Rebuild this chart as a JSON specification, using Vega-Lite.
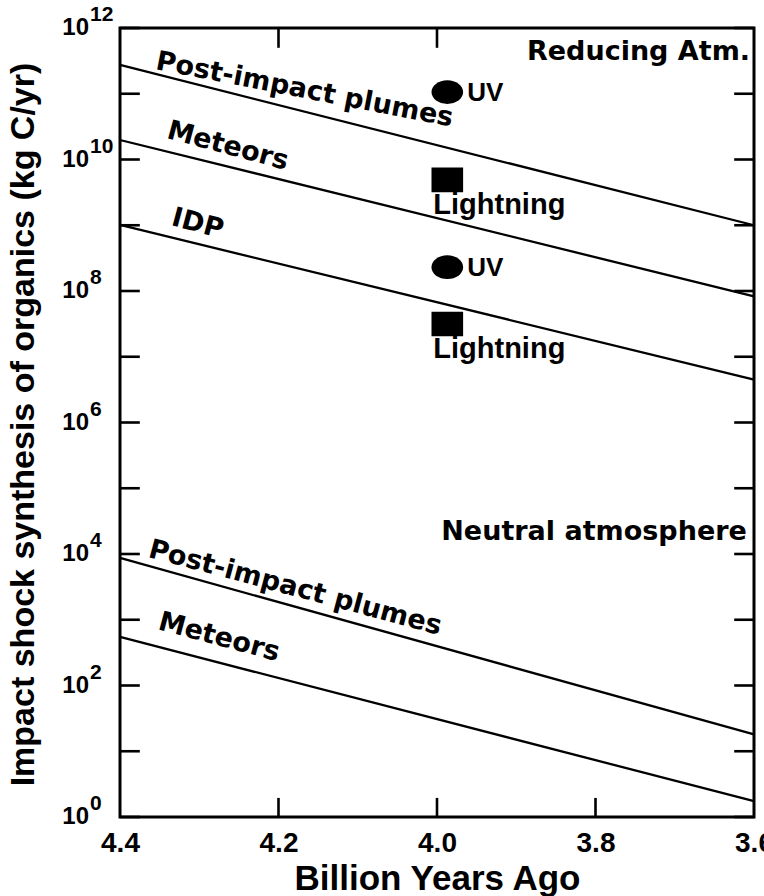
{
  "$schema": "https://vega.github.io/schema/vega-lite/v6.json",
  "width": 634,
  "height": 789,
  "autosize": {"type": "none"},
  "padding": {"left": 120, "top": 28, "right": 10, "bottom": 79},
  "background": "white",
  "config": {
    "font": "Liberation Sans",
    "view": {"stroke": "black", "strokeWidth": 3},
    "axis": {
      "domain": false,
      "grid": false,
      "ticks": false,
      "tickSize": 0,
      "labelColor": "black",
      "labelFont": "Liberation Sans",
      "labelFontWeight": "bold",
      "titleFont": "Liberation Sans",
      "titleFontWeight": "bold",
      "titleColor": "black"
    }
  },
  "datasets": {
    "lines": [
      {"series": "R plumes", "age": 4.4, "rate": 2.74e11},
      {"series": "R plumes", "age": 3.6, "rate": 1.0e9},
      {"series": "R meteors", "age": 4.4, "rate": 1.98e10},
      {"series": "R meteors", "age": 3.6, "rate": 8.3e7},
      {"series": "IDP", "age": 4.4, "rate": 1.01e9},
      {"series": "IDP", "age": 3.6, "rate": 4.5e6},
      {"series": "N plumes", "age": 4.4, "rate": 8700},
      {"series": "N plumes", "age": 3.6, "rate": 18},
      {"series": "N meteors", "age": 4.4, "rate": 547},
      {"series": "N meteors", "age": 3.6, "rate": 1.74}
    ],
    "points": [
      {"source": "UV", "age": 3.987, "rate": 1.06e11},
      {"source": "Lightning", "age": 3.987, "rate": 4.9e9},
      {"source": "UV", "age": 3.987, "rate": 2.3e8},
      {"source": "Lightning", "age": 3.987, "rate": 3.15e7}
    ],
    "leftTicks": [
      {"age": 4.4, "end": 4.375, "rate": 1}, {"age": 4.4, "end": 4.375, "rate": 10}, {"age": 4.4, "end": 4.375, "rate": 100},
      {"age": 4.4, "end": 4.375, "rate": 1000}, {"age": 4.4, "end": 4.375, "rate": 10000}, {"age": 4.4, "end": 4.375, "rate": 100000},
      {"age": 4.4, "end": 4.375, "rate": 1000000}, {"age": 4.4, "end": 4.375, "rate": 10000000}, {"age": 4.4, "end": 4.375, "rate": 100000000},
      {"age": 4.4, "end": 4.375, "rate": 1000000000}, {"age": 4.4, "end": 4.375, "rate": 10000000000}, {"age": 4.4, "end": 4.375, "rate": 100000000000},
      {"age": 4.4, "end": 4.375, "rate": 1000000000000}
    ],
    "rightTicks": [
      {"age": 3.6, "end": 3.625, "rate": 1}, {"age": 3.6, "end": 3.625, "rate": 10}, {"age": 3.6, "end": 3.625, "rate": 100},
      {"age": 3.6, "end": 3.625, "rate": 1000}, {"age": 3.6, "end": 3.625, "rate": 10000}, {"age": 3.6, "end": 3.625, "rate": 100000},
      {"age": 3.6, "end": 3.625, "rate": 1000000}, {"age": 3.6, "end": 3.625, "rate": 10000000}, {"age": 3.6, "end": 3.625, "rate": 100000000},
      {"age": 3.6, "end": 3.625, "rate": 1000000000}, {"age": 3.6, "end": 3.625, "rate": 10000000000}, {"age": 3.6, "end": 3.625, "rate": 100000000000},
      {"age": 3.6, "end": 3.625, "rate": 1000000000000}
    ],
    "xTicks": [
      {"age": 4.2, "rate": 1, "end": 1.95},
      {"age": 4.0, "rate": 1, "end": 1.95},
      {"age": 3.8, "rate": 1, "end": 1.95},
      {"age": 4.2, "rate": 1000000000000, "end": 500000000000},
      {"age": 4.0, "rate": 1000000000000, "end": 500000000000}
    ],
    "yLabels": [
      {"rate": 1, "exp": "0"},
      {"rate": 100, "exp": "2"},
      {"rate": 10000, "exp": "4"},
      {"rate": 1000000, "exp": "6"},
      {"rate": 100000000, "exp": "8"},
      {"rate": 10000000000, "exp": "10"},
      {"rate": 1000000000000, "exp": "12"}
    ],
    "plumesLabel": [
      {"label": "Post-impact plumes", "age": 4.167, "rate": 1.14e11}
    ],
    "reducingLabels": [
      {"label": "Meteors", "age": 4.264, "rate": 1.6e10},
      {"label": "IDP", "age": 4.302, "rate": 1.05e9}
    ],
    "neutralLabels": [
      {"label": "Post-impact plumes", "age": 4.179, "rate": 3040},
      {"label": "Meteors", "age": 4.275, "rate": 540}
    ],
    "regionLabels": [
      {"label": "Reducing Atm.", "age": 3.605, "rate": 4.3e11},
      {"label": "Neutral atmosphere", "age": 3.609, "rate": 21600}
    ]
  },
  "resolve": {"axis": {"x": "independent", "y": "independent"}},
  "layer": [
    {
      "data": {"name": "lines"},
      "mark": {"type": "line", "color": "black", "strokeWidth": 2.3},
      "encoding": {
        "x": {
          "field": "age",
          "type": "quantitative",
          "scale": {"domain": [3.6, 4.4], "reverse": true, "nice": false, "zero": false},
          "axis": {
            "orient": "bottom",
            "values": [4.4, 4.2, 4.0, 3.8, 3.6],
            "format": ".1f",
            "labelFontSize": 28,
            "labelPadding": 12,
            "labelFlush": false,
            "labelOverlap": false,
            "title": "Billion Years Ago",
            "titleFontSize": 35,
            "titleBaseline": "alphabetic",
            "titleY": 72
          }
        },
        "y": {
          "field": "rate",
          "type": "quantitative",
          "scale": {"type": "log", "domain": [1, 1e12], "nice": false},
          "axis": {
            "orient": "left",
            "values": [1, 10, 100, 1000, 10000, 100000, 1000000, 10000000, 100000000, 1000000000, 10000000000, 100000000000, 1000000000000],
            "labels": false,
            "title": "Impact shock synthesis of organics (kg C/yr)",
            "titleFontSize": 34,
            "titleAngle": -90,
            "titleAlign": "center",
            "titleBaseline": "alphabetic",
            "titleX": -87,
            "titleY": 396
          }
        },
        "detail": {"field": "series"}
      }
    },
    {
      "data": {"name": "leftTicks"},
      "mark": {"type": "rule", "color": "black", "strokeWidth": 2.6},
      "encoding": {
        "x": {"field": "age", "type": "quantitative", "axis": null},
        "x2": {"field": "end"},
        "y": {"field": "rate", "type": "quantitative", "axis": null}
      }
    },
    {
      "data": {"name": "rightTicks"},
      "mark": {"type": "rule", "color": "black", "strokeWidth": 2.6},
      "encoding": {
        "x": {"field": "age", "type": "quantitative", "axis": null},
        "x2": {"field": "end"},
        "y": {"field": "rate", "type": "quantitative", "axis": null}
      }
    },
    {
      "data": {"name": "xTicks"},
      "mark": {"type": "rule", "color": "black", "strokeWidth": 2.6},
      "encoding": {
        "x": {"field": "age", "type": "quantitative", "axis": null},
        "y": {"field": "rate", "type": "quantitative", "axis": null},
        "y2": {"field": "end"}
      }
    },
    {
      "data": {"name": "points"},
      "mark": {"type": "point", "filled": true, "color": "black", "opacity": 1},
      "encoding": {
        "x": {"field": "age", "type": "quantitative", "axis": null},
        "y": {"field": "rate", "type": "quantitative", "axis": null},
        "shape": {
          "field": "source",
          "type": "nominal",
          "scale": {"domain": ["UV", "Lightning"], "range": ["M -1 0 A 1 0.75 0 1 0 1 0 A 1 0.75 0 1 0 -1 0 Z", "M -1 -0.78 H 1 V 0.78 H -1 Z"]},
          "legend": null
        },
        "size": {"value": 1000}
      }
    },
    {
      "data": {"name": "yLabels"},
      "mark": {"type": "text", "align": "right", "baseline": "middle", "dx": -31, "fontSize": 24, "fontWeight": "bold", "font": "Liberation Sans", "color": "black"},
      "encoding": {
        "x": {"datum": 4.4, "type": "quantitative", "axis": null},
        "y": {"field": "rate", "type": "quantitative", "axis": null},
        "text": {"value": "10"}
      }
    },
    {
      "data": {"name": "yLabels"},
      "mark": {"type": "text", "align": "left", "baseline": "middle", "dx": -30, "dy": -13, "fontSize": 21, "fontWeight": "bold", "font": "Liberation Sans", "color": "black"},
      "encoding": {
        "x": {"datum": 4.4, "type": "quantitative", "axis": null},
        "y": {"field": "rate", "type": "quantitative", "axis": null},
        "text": {"field": "exp"}
      }
    },
    {
      "data": {"name": "points"},
      "transform": [{"filter": "datum.source == 'UV'"}],
      "mark": {"type": "text", "align": "left", "baseline": "alphabetic", "dx": 20, "dy": 9, "fontSize": 26, "fontWeight": "bold", "font": "Liberation Sans", "color": "black"},
      "encoding": {
        "x": {"field": "age", "type": "quantitative", "axis": null},
        "y": {"field": "rate", "type": "quantitative", "axis": null},
        "text": {"field": "source"}
      }
    },
    {
      "data": {"name": "points"},
      "transform": [{"filter": "datum.source == 'Lightning'"}],
      "mark": {"type": "text", "align": "left", "baseline": "alphabetic", "dx": -14, "dy": 34, "fontSize": 29, "fontWeight": "bold", "font": "Liberation Sans", "color": "black"},
      "encoding": {
        "x": {"field": "age", "type": "quantitative", "axis": null},
        "y": {"field": "rate", "type": "quantitative", "axis": null},
        "text": {"field": "source"}
      }
    },
    {
      "data": {"name": "plumesLabel"},
      "mark": {"type": "text", "align": "center", "baseline": "middle", "angle": 11, "fontSize": 27, "fontWeight": "bold", "font": "DejaVu Sans", "color": "black"},
      "encoding": {
        "x": {"field": "age", "type": "quantitative", "axis": null},
        "y": {"field": "rate", "type": "quantitative", "axis": null},
        "text": {"field": "label"}
      }
    },
    {
      "data": {"name": "reducingLabels"},
      "mark": {"type": "text", "align": "center", "baseline": "middle", "angle": 15, "fontSize": 27, "fontWeight": "bold", "font": "DejaVu Sans", "color": "black"},
      "encoding": {
        "x": {"field": "age", "type": "quantitative", "axis": null},
        "y": {"field": "rate", "type": "quantitative", "axis": null},
        "text": {"field": "label"}
      }
    },
    {
      "data": {"name": "neutralLabels"},
      "mark": {"type": "text", "align": "center", "baseline": "middle", "angle": 15, "fontSize": 27, "fontWeight": "bold", "font": "DejaVu Sans", "color": "black"},
      "encoding": {
        "x": {"field": "age", "type": "quantitative", "axis": null},
        "y": {"field": "rate", "type": "quantitative", "axis": null},
        "text": {"field": "label"}
      }
    },
    {
      "data": {"name": "regionLabels"},
      "mark": {"type": "text", "align": "right", "baseline": "middle", "fontSize": 27, "fontWeight": "bold", "font": "DejaVu Sans", "color": "black"},
      "encoding": {
        "x": {"field": "age", "type": "quantitative", "axis": null},
        "y": {"field": "rate", "type": "quantitative", "axis": null},
        "text": {"field": "label"}
      }
    }
  ]
}
